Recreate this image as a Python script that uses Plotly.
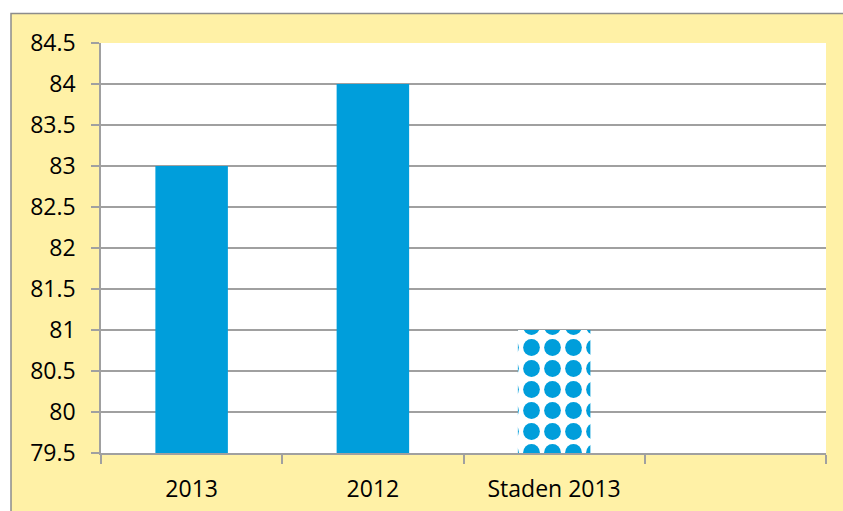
import plotly.graph_objects as go

categories = ["2013", "2012", "Staden 2013", " "]
values = [83, 84, 81, None]
patterns = ["", "", ".", ""]

y_min, y_max, y_step = 79.5, 84.5, 0.5

BLUE = "#009EDB"
YELLOW = "#FFF1A6"
GRID = "#A0A0A0"
FONT = "Open Sans"

fig = go.Figure()
fig.add_trace(go.Bar(
    x=categories,
    y=values,
    width=0.4,
    marker=dict(
        color=BLUE,
        line=dict(width=0),
        pattern=dict(shape=patterns, fgcolor=BLUE, bgcolor="white",
                     size=21, solidity=0.5, fillmode="replace"),
    ),
    hoverinfo="x+y",
))

fig.update_layout(
    width=843, height=511,
    margin=dict(l=101, r=17, t=43, b=58),
    paper_bgcolor="white",
    plot_bgcolor="white",
    showlegend=False,
    font=dict(family=FONT, size=23, color="black"),
    shapes=[
        dict(type="rect", xref="paper", yref="paper", layer="below",
             x0=(11 - 101) / 725, x1=1.3,
             y0=-0.3, y1=(453 - 13.5) / 410,
             fillcolor=YELLOW, line=dict(color="#8C8C8C", width=1.5)),
        dict(type="rect", xref="paper", yref="paper", layer="below",
             x0=0, x1=1, y0=0, y1=1,
             fillcolor="white", line=dict(width=0)),
    ],
)

fig.update_xaxes(
    type="category",
    categoryorder="array", categoryarray=categories,
    range=[-0.5, 3.5],
    tickson="boundaries",
    ticks="outside", ticklen=9, tickwidth=1.5, tickcolor=GRID,
    showline=True, linecolor=GRID, linewidth=1.5,
    showgrid=False,
    automargin=False,
    ticklabelstandoff=15,
    tickfont=dict(family=FONT, size=23),
)
fig.update_yaxes(
    range=[y_min, y_max],
    dtick=y_step, tick0=y_min,
    ticks="outside", ticklen=8, tickwidth=1.5, tickcolor=GRID,
    showline=True, linecolor=GRID, linewidth=1.5,
    showgrid=True, gridcolor=GRID, gridwidth=1.5,
    zeroline=False,
    automargin=False,
    ticklabelstandoff=11,
    tickfont=dict(family=FONT, size=23),
)

fig.write_html("out.html", config={"displayModeBar": False},
               post_script="document.body.style.margin='0';")
